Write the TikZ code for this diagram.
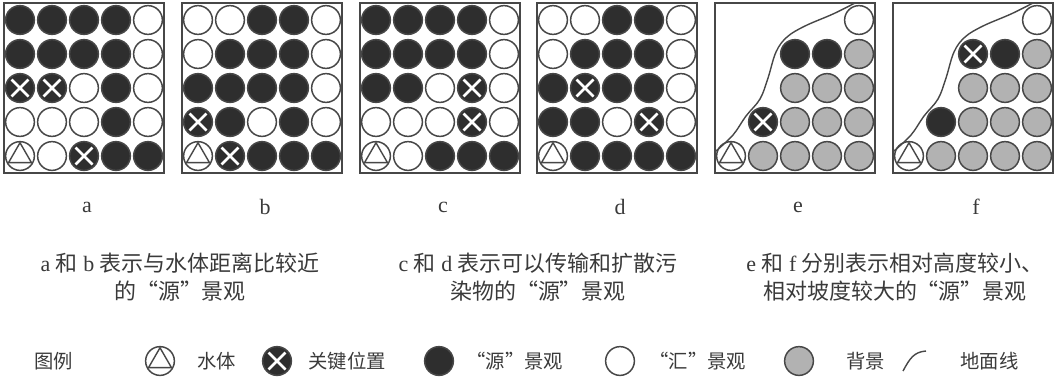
\documentclass[tikz,border=0pt]{standalone}
\usepackage{fontspec}
\setmainfont{Liberation Serif}
\newfontfamily\cjk{Noto Sans CJK SC}

\definecolor{yuan}{HTML}{2E2E2E}
\definecolor{hinter}{HTML}{B2B2B2}
\definecolor{rand}{HTML}{474747}
\definecolor{txt}{HTML}{3A3A3A}

% ein Feld: #1 Name, #2 linker Rand, #3 Zeilen
\newcommand{\feld}[3]{%
  \draw[rahmen] (#2,3) rectangle ++(160,170);
  \foreach \zeile [count=\j] in {#3} {
    \foreach \c [count=\i] in \zeile {
      \node[c\c] (#1-\j-\i) at ({#2+16+32*(\i-1)},{20+34*(\j-1)}) {};
    }
  }
}

\begin{document}
\begin{tikzpicture}[x=0.02cm, y=-0.02cm,
    kreis/.style={circle, draw=rand, line width=0.85pt, minimum size=0.575cm, inner sep=0pt},
    cD/.style={kreis, fill=yuan},
    cW/.style={kreis, fill=white},
    cG/.style={kreis, fill=hinter},
    cN/.style={circle, minimum size=0.575cm, inner sep=0pt},
    cX/.style={cD, path picture={
        \draw[white, line width=1.5pt]
          ([shift={(-0.17cm,-0.17cm)}]path picture bounding box.center) -- ([shift={(0.17cm,0.17cm)}]path picture bounding box.center)
          ([shift={(-0.17cm,0.17cm)}]path picture bounding box.center) -- ([shift={(0.17cm,-0.17cm)}]path picture bounding box.center);}},
    cT/.style={cW, path picture={
        \draw[rand, line width=0.8pt]
          ([shift={(90:0.265cm)}]path picture bounding box.center) -- ([shift={(210:0.265cm)}]path picture bounding box.center)
          -- ([shift={(330:0.265cm)}]path picture bounding box.center) -- cycle;}},
    rahmen/.style={draw=rand, line width=1pt},
    boden/.style={draw=rand, line width=0.8pt},
    buchst/.style={text=txt, inner sep=0pt, font=\fontsize{12.5}{15}\selectfont},
    capt/.style={text=txt, inner sep=0pt, align=center, font=\fontsize{12.5}{15.5}\selectfont},
    leg/.style={text=txt, inner sep=0pt, anchor=west, font=\fontsize{11}{13}\selectfont\cjk}]
  \useasboundingbox (0,0) rectangle (1064,379);

  % die sechs Felder:
  \feld{a}{4}{{D,D,D,D,W},{D,D,D,D,W},{X,X,W,D,W},{W,W,W,D,W},{T,W,X,D,D}}
  \feld{b}{182}{{W,W,D,D,W},{W,D,D,D,W},{D,D,D,D,W},{X,D,W,D,W},{T,X,D,D,D}}
  \feld{c}{360}{{D,D,D,D,W},{D,D,D,D,W},{D,D,W,X,W},{W,W,W,X,W},{T,W,D,D,D}}
  \feld{d}{537}{{W,W,D,D,W},{W,D,D,D,W},{D,X,D,D,W},{D,D,W,X,W},{T,D,D,D,D}}
  \feld{e}{715}{{N,N,N,N,W},{N,N,D,D,G},{N,N,G,G,G},{N,X,G,G,G},{T,G,G,G,G}}
  \feld{f}{893}{{N,N,N,N,W},{N,N,X,D,G},{N,N,G,G,G},{N,D,G,G,G},{T,G,G,G,G}}

  % Gelaendelinien:
  \foreach \l in {715,893} {
    \draw[boden] plot[smooth, tension=0.6] coordinates {(\l+1,151) (\l+18,135) (\l+31,116) (\l+45,99)
      (\l+53,78) (\l+61,52) (\l+72,37) (\l+90,26) (\l+118,14) (\l+140,3)};
  }

  % Buchstaben:
  \foreach \n/\x in {a/87,b/265,c/443,d/620,e/798,f/976} {
    \node[buchst] (lab-\n) at (\x,207) {\n};
  }

  % Erlaeuterungen:
  \node[capt] (cap-ab) at (180,277) {a {\cjk 和} b {\cjk 表示与水体距离比较近}\\{\cjk 的“源”景观}};
  \node[capt] (cap-cd) at (538,277) {c {\cjk 和} d {\cjk 表示可以传输和扩散污}\\{\cjk 染物的“源”景观}};
  \node[capt] (cap-ef) at (895,277) {e {\cjk 和} f {\cjk 分别表示相对高度较小、}\\{\cjk 相对坡度较大的“源”景观}};

  % Legende:
  \node[leg] (leg-titel) at (34,361) {图例};
  \node[cT] (leg-t) at (160,361) {};
  \node[leg] (leg-wasser) at (197,361) {水体};
  \node[cX] (leg-x) at (277,361) {};
  \node[leg] (leg-key) at (308,361) {关键位置};
  \node[cD] (leg-d) at (439,361) {};
  \node[leg] (leg-yuan) at (466,361) {“源”景观};
  \node[cW] (leg-w) at (620,361) {};
  \node[leg] (leg-hui) at (649,361) {“汇”景观};
  \node[cG] (leg-g) at (799,361) {};
  \node[leg] (leg-bg) at (846,361) {背景};
  \coordinate (lin-a) at (903,371);
  \coordinate (lin-b) at (926,351);
  \draw[boden] (lin-a) .. controls (910,358) and (914,352) .. (lin-b);
  \node[leg] (leg-boden) at (960,361) {地面线};
\end{tikzpicture}
\end{document}
